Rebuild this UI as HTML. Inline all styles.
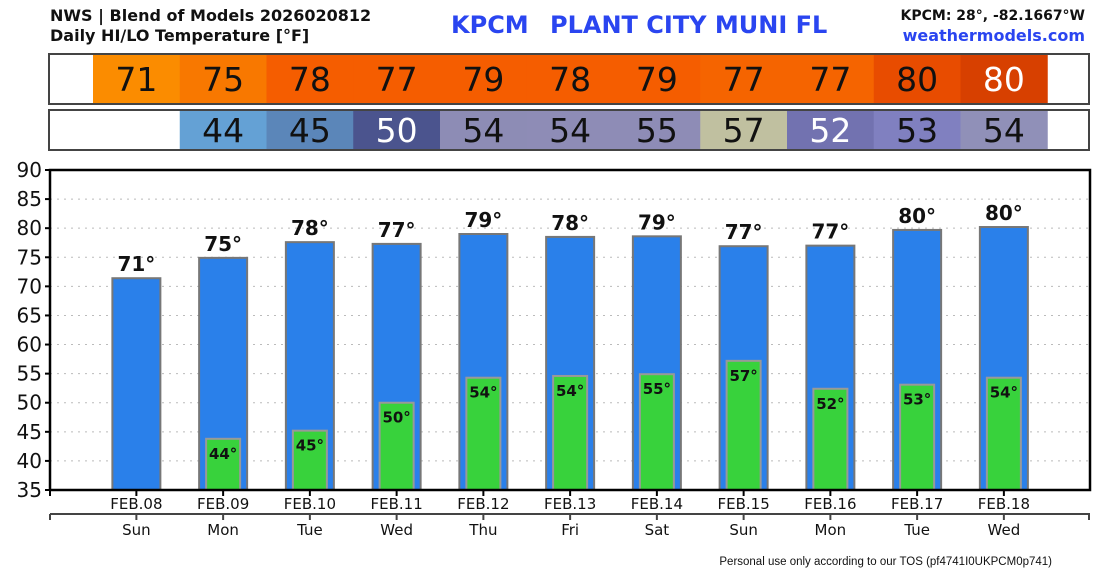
<!DOCTYPE html>
<html><head><meta charset="utf-8"><style>
body{margin:0;background:#fff;width:1100px;height:570px;overflow:hidden;font-family:"DejaVu Sans","Liberation Sans",sans-serif}
svg{display:block}
</style></head><body>
<svg id="c" width="1100" height="570" xmlns="http://www.w3.org/2000/svg">
<text x="50" y="21" font-size="16" fill="#111" font-weight="bold">NWS | Blend of Models 2026020812</text>
<text x="50" y="41" font-size="16" fill="#111" font-weight="bold">Daily HI/LO Temperature [°F]</text>
<text x="451" y="33" font-size="24" fill="#2a45f0" font-weight="bold">KPCM</text>
<text x="550" y="33" font-size="24" fill="#2a45f0" font-weight="bold">PLANT CITY MUNI FL</text>
<text x="1085" y="20" font-size="14" fill="#111" text-anchor="end" font-weight="bold">KPCM: 28°, -82.1667°W</text>
<text x="1085" y="41" font-size="16" fill="#2a45f0" text-anchor="end" font-weight="bold">weathermodels.com</text>
<g id="boxes"></g>
<g id="plot"></g>
<text x="1052" y="565" font-size="11.5" fill="#111" text-anchor="end" font-family="Liberation Sans, sans-serif">Personal use only according to our TOS (pf4741I0UKPCM0p741)</text>
</svg>
<script>
const dates=["FEB.08","FEB.09","FEB.10","FEB.11","FEB.12","FEB.13","FEB.14","FEB.15","FEB.16","FEB.17","FEB.18"];
const days=["Sun","Mon","Tue","Wed","Thu","Fri","Sat","Sun","Mon","Tue","Wed"];
const highs=[71.4,74.9,77.6,77.3,79.0,78.5,78.6,76.9,77.0,79.7,80.2];
const highLabels=[71,75,78,77,79,78,79,77,77,80,80];
const lows=[null,43.8,45.2,50.0,54.3,54.6,54.9,57.2,52.4,53.1,54.3];
const lowLabels=[null,44,45,50,54,54,55,57,52,53,54];
const highColors=["#fb8c00","#f87800","#f55d00","#f55d00","#f55d00","#f55d00","#f55d00","#f56400","#f56400","#e84c00","#d74000"];
const lowColors=[null,"#64a1d5","#5b86b9","#4b548e","#8d8cb5","#8e8cb6","#8e8cb6","#c0c0a0","#7272b0","#8080c0","#9090b8"];
const lowWhite=[0,0,0,1,0,0,0,0,1,0,0];
const highWhite=[0,0,0,0,0,0,0,0,0,0,1];
const yTicks=[35,40,45,50,55,60,65,70,75,80,85,90];
const NS="http://www.w3.org/2000/svg";
const L=50,R=1090,T=170,B=490,ymin=35,ymax=90;
const x0=93,step=86.75;
const y=v=>B-(v-ymin)/(ymax-ymin)*(B-T);
const cx=i=>x0+step*(i+0.5);
function mk(p,tag,at){const e=document.createElementNS(NS,tag);for(const k in at)e.setAttribute(k,at[k]);p.appendChild(e);return e;}
const bx=document.getElementById('boxes'),pl=document.getElementById('plot');
for(let r=0;r<2;r++){
 const top=r?110:54,h=r?40:50,vals=r?lowLabels:highLabels,cols=r?lowColors:highColors,wh=r?lowWhite:highWhite;
 vals.forEach((v,i)=>{if(v==null)return;
  const rc=mk(bx,'rect',{x:x0+step*i,y:top,width:step+0.5,height:h,fill:cols[i]});
  
  
  const t=mk(bx,'text',{x:cx(i),y:top+h/2+12,'font-size':33,'text-anchor':'middle',fill:wh[i]?'#fff':'#111'});
  t.textContent=v;
  
  
 });
 const br=mk(bx,'rect',{x:49,y:top,width:1040,height:h,fill:'none',stroke:'#444','stroke-width':2});
 
 
}
yTicks.forEach(v=>{
 if(v>ymin&&v<ymax){const g=mk(pl,'line',{x1:L,x2:R,y1:y(v),y2:y(v),stroke:'#bbb','stroke-dasharray':'2,5'});
  }
 mk(pl,'line',{x1:L-5,x2:L,y1:y(v),y2:y(v),stroke:'#000','stroke-width':2});
 const t=mk(pl,'text',{x:L-8,y:y(v)+7,'font-size':20,'text-anchor':'end',fill:'#111'});t.textContent=v;
 
});
highs.forEach((v,i)=>{
 const b=mk(pl,'rect',{x:cx(i)-24,y:y(v),width:48,height:B-y(v),fill:'#2a80ea',stroke:'#777','stroke-width':2});
 
 const t=mk(pl,'text',{x:cx(i),y:y(v)-7,'font-size':20,'font-weight':'bold','text-anchor':'middle',fill:'#111'});t.textContent=highLabels[i]+'°';
 
 if(lows[i]!=null){const lv=lows[i];
  const g=mk(pl,'rect',{x:cx(i)-17,y:y(lv),width:34,height:B-y(lv),fill:'#38d23c',stroke:'#999','stroke-width':2});
  
  const lt=mk(pl,'text',{x:cx(i),y:y(lv)+20,'font-size':15,'font-weight':'bold','text-anchor':'middle',fill:'#111'});lt.textContent=lowLabels[i]+'°';
  }
});
const fr=mk(pl,'path',{d:`M${L} ${B} V${T} H${R} V${B} H${L}`,fill:'none',stroke:'#000','stroke-width':2.5});

const ax2=mk(pl,'line',{x1:L,x2:R,y1:514,y2:514,stroke:'#444','stroke-width':2});

mk(pl,'line',{x1:L,x2:L,y1:490,y2:496,stroke:'#000','stroke-width':2});
mk(pl,'line',{x1:L,x2:L,y1:514,y2:520,stroke:'#444','stroke-width':2});
mk(pl,'line',{x1:R-1,x2:R-1,y1:514,y2:520,stroke:'#444','stroke-width':2});
dates.forEach((d,i)=>{
 mk(pl,'line',{x1:cx(i),x2:cx(i),y1:490,y2:496,stroke:'#000','stroke-width':2});
 mk(pl,'line',{x1:cx(i),x2:cx(i),y1:514,y2:520,stroke:'#444','stroke-width':2});
 const t=mk(pl,'text',{x:cx(i),y:509,'font-size':15,'text-anchor':'middle',fill:'#111'});t.textContent=d;
 
 const w=mk(pl,'text',{x:cx(i),y:535,'font-size':15,'text-anchor':'middle',fill:'#111'});w.textContent=days[i];
 
});
</script>
</body></html>
